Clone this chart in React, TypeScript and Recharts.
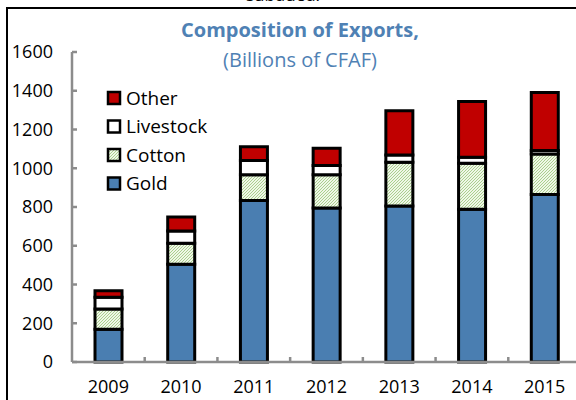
import React from "react";
import { BarChart, Bar, XAxis, YAxis } from "recharts";

// exports by category, billions of CFAF
const YEARS = ["2009", "2010", "2011", "2012", "2013", "2014", "2015"];
const GOLD = [169, 505, 834, 795, 805, 788, 865];
const COTTON = [105, 108, 132, 171, 226, 238, 209];
const LIVESTOCK = [60, 63, 74, 48, 38, 31, 18];
const OTHER = [34, 72, 71, 89, 228, 287, 299];
const Y_TICKS = [0, 200, 400, 600, 800, 1000, 1200, 1400, 1600];

const FONT = "'Open Sans', sans-serif";
const AXIS_GREY = "#8c8c8c";
const GOLD_BLUE = "#4a7eb1";
const OTHER_RED = "#c00000";
const HATCH_BG = "#eff7e7";
const HATCH_LINE = "#a3cb83";

const CHART_W = 600;
const CHART_H = 400;
const Y_AXIS_W = 72;
const X_AXIS_H = 38;
const MARGIN = { top: 52, right: 19, bottom: 0, left: 0 };
const BAND = (CHART_W - Y_AXIS_W - MARGIN.right) / YEARS.length;

const data = YEARS.map((year, i) => ({
  year,
  gold: GOLD[i],
  cotton: COTTON[i],
  livestock: LIVESTOCK[i],
  other: OTHER[i],
}));

const legendItems = [
  { name: "Other", fill: OTHER_RED },
  { name: "Livestock", fill: "#ffffff" },
  { name: "Cotton", fill: "url(#legendHatch)" },
  { name: "Gold", fill: GOLD_BLUE },
];

const Hatch = ({ id }: { id: string }) => (
  <pattern id={id} patternUnits="userSpaceOnUse" width={3} height={3}>
    <rect width={3} height={3} fill={HATCH_BG} />
    <path d="M-1,1 l2,-2 M0,3 l3,-3 M2,4 l2,-2" stroke={HATCH_LINE} strokeWidth={0.9} />
  </pattern>
);

const YTick = (props: any) => {
  const { y, payload } = props;
  const ax = Y_AXIS_W;
  return (
    <g>
      <line x1={ax} x2={ax + 5} y1={y} y2={y} stroke={AXIS_GREY} strokeWidth={2.5} />
      <text x={ax - 19} y={y} dy="0.36em" textAnchor="end" fontFamily={FONT} fontSize={18} fill="#000">
        {payload.value}
      </text>
    </g>
  );
};

const XTick = (props: any) => {
  const { x, payload } = props;
  const ay = CHART_H - X_AXIS_H;
  return (
    <g>
      <line x1={x + BAND / 2} x2={x + BAND / 2} y1={ay} y2={ay - 5} stroke={AXIS_GREY} strokeWidth={2.5} />
      <text x={x} y={ay + 31} textAnchor="middle" fontFamily={FONT} fontSize={18} fill="#000">
        {payload.value}
      </text>
    </g>
  );
};

export default function App() {
  return (
    <div
      style={{
        position: "fixed",
        left: 0,
        top: 0,
        width: 576,
        height: 400,
        overflow: "hidden",
        background: "#fff",
        fontFamily: FONT,
      }}
    >
      {/* caption of the figure above, mostly cut off */}
      <div
        style={{
          position: "absolute",
          left: 0,
          width: 566,
          top: -15,
          textAlign: "center",
          fontSize: 17,
          lineHeight: "20px",
          color: "#000",
        }}
      >
        subdued.
      </div>
      <div
        style={{
          position: "absolute",
          left: 6,
          top: 7,
          width: 700,
          height: 500,
          border: "2px solid #000",
        }}
      />
      <div style={{ position: "absolute", left: 0, top: 0 }}>
        <BarChart width={CHART_W} height={CHART_H} data={data} margin={MARGIN} barSize={27}>
          <defs>
            <Hatch id="cottonHatch" />
          </defs>
          <XAxis
            dataKey="year"
            height={X_AXIS_H}
            tick={<XTick />}
            axisLine={{ stroke: AXIS_GREY, strokeWidth: 2.5 }}
            tickLine={false}
            interval={0}
          />
          <YAxis
            width={Y_AXIS_W}
            domain={[0, 1600]}
            ticks={Y_TICKS}
            tick={<YTick />}
            axisLine={{ stroke: AXIS_GREY, strokeWidth: 2.5 }}
            tickLine={false}
            interval={0}
          />
          <Bar dataKey="gold" name="Gold" stackId="a" fill={GOLD_BLUE} stroke="#000" strokeWidth={3} isAnimationActive={false} />
          <Bar dataKey="cotton" name="Cotton" stackId="a" fill="url(#cottonHatch)" stroke="#000" strokeWidth={3} isAnimationActive={false} />
          <Bar dataKey="livestock" name="Livestock" stackId="a" fill="#ffffff" stroke="#000" strokeWidth={3} isAnimationActive={false} />
          <Bar dataKey="other" name="Other" stackId="a" fill={OTHER_RED} stroke="#000" strokeWidth={3} isAnimationActive={false} />
        </BarChart>
      </div>
      <div
        style={{
          position: "absolute",
          left: 0,
          width: 600,
          top: 16,
          textAlign: "center",
          color: "#4f81b4",
          fontSize: 20,
          lineHeight: "28px",
        }}
      >
        <div style={{ fontWeight: 700 }}>Composition of Exports,</div>
        <div style={{ marginTop: 2 }}>(Billions of CFAF)</div>
      </div>
      <svg style={{ position: "absolute", left: 0, top: 0 }} width={300} height={220}>
        <defs>
          <Hatch id="legendHatch" />
        </defs>
        {legendItems.map((item, i) => {
          const cy = 98 + i * 28.5;
          return (
            <g key={item.name}>
              <rect x={108} y={cy - 6} width={12} height={12} fill={item.fill} stroke="#000" strokeWidth={2.5} />
              <text x={126} y={cy} dy="0.36em" fontFamily={FONT} fontSize={19} fill="#000">
                {item.name}
              </text>
            </g>
          );
        })}
      </svg>
    </div>
  );
}
